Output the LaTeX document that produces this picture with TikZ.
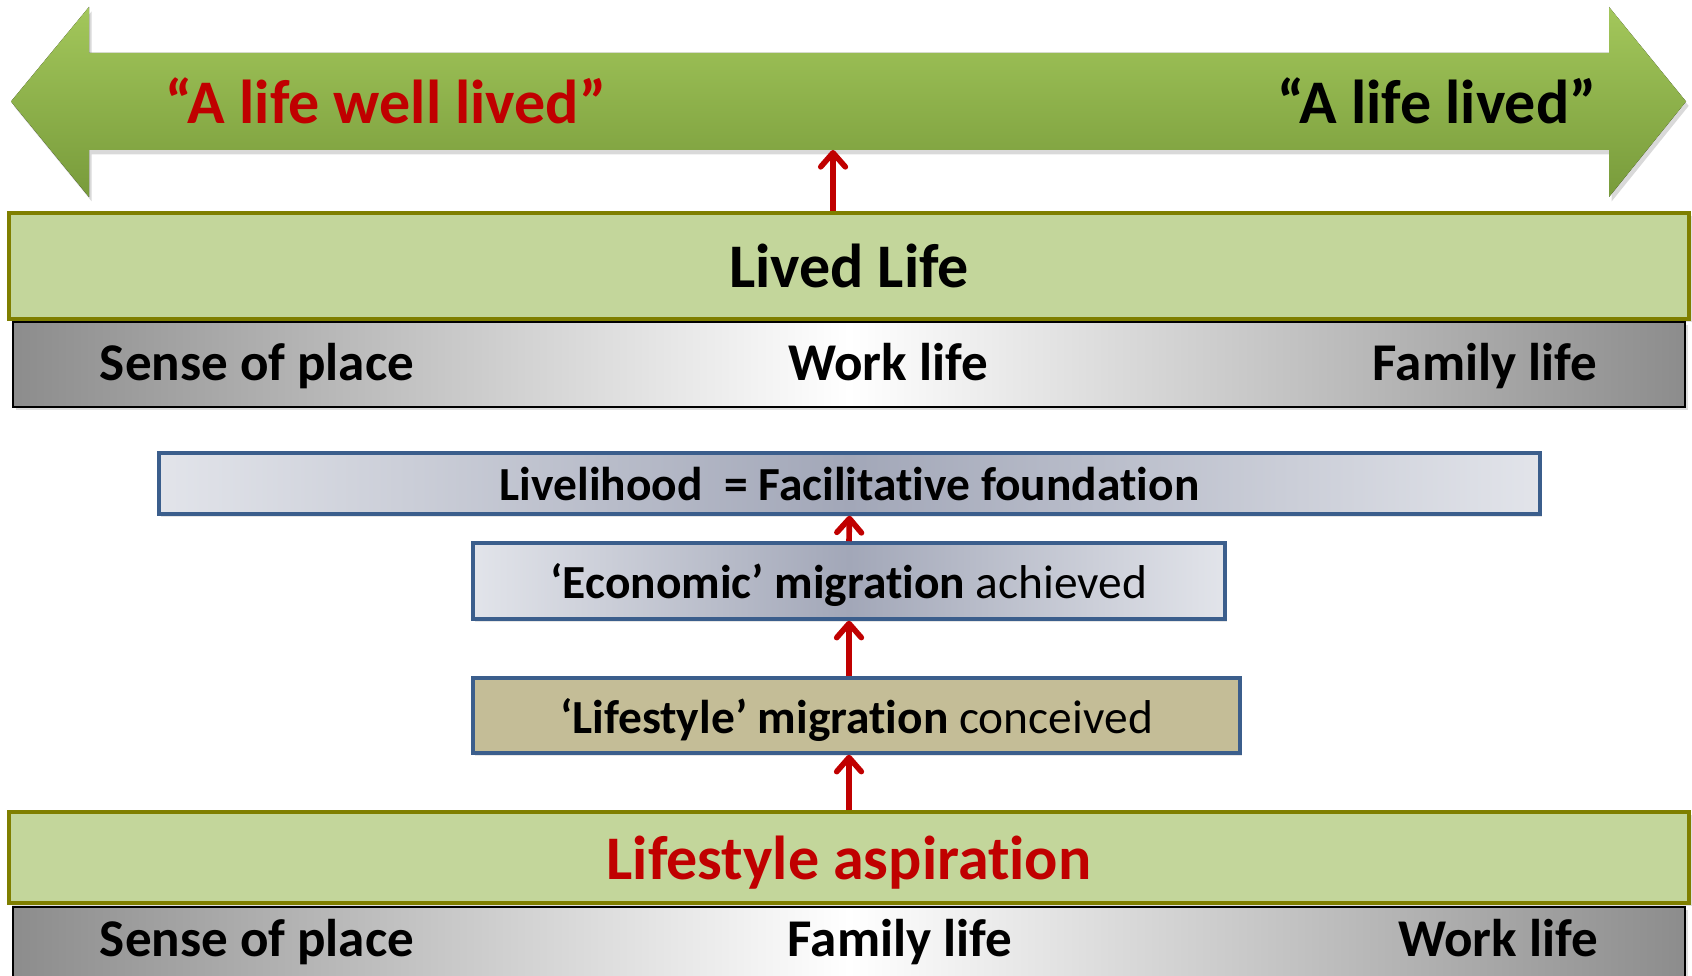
\documentclass[tikz,border=0pt]{standalone}
\usepackage{fontspec}
\setmainfont{Carlito}[Ligatures=NoCommon]
\usetikzlibrary{arrows.meta}
\usetikzlibrary{shadows}
\usepackage{xcolor}
\definecolor{lifered}{HTML}{C00000}
\definecolor{arrowtop}{HTML}{A3C75B}
\definecolor{arrowbot}{HTML}{789B3B}
\definecolor{olivefill}{HTML}{C3D69B}
\definecolor{oliveline}{HTML}{7F7F00}
\definecolor{blueline}{HTML}{3B5E8C}
\definecolor{steeledge}{HTML}{E2E4EA}
\definecolor{steelmid}{HTML}{A2A7B8}
\definecolor{tanfill}{HTML}{C4BD97}

\begin{document}
\begin{tikzpicture}[
    greenbar/.style = {draw=oliveline, line width=2.4pt, fill=olivefill,
                minimum width=33.6cm, minimum height=#1, inner sep=0pt, text depth=0pt,
                drop shadow={opacity=0.25, shadow xshift=1.5pt, shadow yshift=-1.5pt}},
    greybar/.style = {draw=black, line width=1.2pt, left color=black!45,
                right color=black!45, middle color=white,
                minimum width=33.44cm, minimum height=#1, inner sep=0pt,
                drop shadow={opacity=0.25, shadow xshift=1.5pt, shadow yshift=-1.5pt}},
    box/.style = {draw=blueline, line width=2pt, minimum width=#1,
                inner sep=0pt, text depth=0pt,
                drop shadow={opacity=0.2, shadow xshift=1pt, shadow yshift=-1.5pt}},
    steel/.style = {left color=steeledge, right color=steeledge, middle color=steelmid},
    redarrow/.style = {draw=lifered, line width=3.2pt,
                -{Straight Barb[length=8pt,width=14pt,round]}},
    big/.style = {font=\fontsize{35.3}{42}\selectfont\bfseries},
    mid/.style = {font=\fontsize{30.2}{36}\selectfont\bfseries, anchor=base},
    small/.style = {font=\fontsize{27}{32}\selectfont}
                    ]
        \path[use as bounding box] (0,0) rectangle (33.84,19.52);
        \clip (0,0) rectangle (33.84,19.52);
        % the double arrow on top
        \def\hx{1.78}
        \def\hX{32.18}
        \fill[top color=arrowtop, bottom color=arrowbot,
              drop shadow={opacity=0.3, shadow xshift=1.5pt, shadow yshift=-2.5pt}]
            (0.22,17.49) -- (\hx,19.38) -- (\hx,18.46) -- (\hX,18.46) -- (\hX,19.38)
            -- (33.72,17.49) -- (\hX,15.58) -- (\hX,16.52) -- (\hx,16.52)
            -- (\hx,15.58) -- cycle;
        \coordinate (shaft) at (16.66,16.52);
        \node[big, text=lifered] (welllived) at (7.72,17.50) {“A life well lived”};
        \node[big] (lived) at (28.74,17.50) {“A life lived”};
        \node[greenbar=2.12cm, big] (livedlife) at (16.98,14.20) {Lived Life};
        \node[greybar=1.70cm] (topbar) at (16.98,12.23) {};
        \foreach \x/\t [count=\i] in {5.14/Sense of place, 17.76/Work life, 29.70/Family life}
            \node[mid] (top\i) at (\x,11.90) {\t};
        \node[box=27.62cm, steel, minimum height=1.22cm,
              font=\fontsize{27}{32}\selectfont\bfseries]
            (livelihood) at (16.99,9.85) {Livelihood~~= Facilitative foundation};
        \node[box=15.04cm, steel, minimum height=1.52cm, small]
            (economic) at (16.98,7.90) {\textbf{‘Economic’ migration} achieved};
        \node[box=15.34cm, fill=tanfill, minimum height=1.50cm, small]
            (lifestyle) at (17.13,5.21) {\textbf{‘Lifestyle’ migration} conceived};
        \node[greenbar=1.82cm, big, text=lifered] (aspiration) at (16.98,2.37) {Lifestyle aspiration};
        \node[greybar=1.60cm] (bottombar) at (16.98,0.58) {};
        \foreach \x/\t [count=\i] in {5.14/Sense of place, 18.00/Family life, 29.96/Work life}
            \node[mid] (bottom\i) at (\x,0.38) {\t};
        \draw[redarrow] (livedlife.north -| shaft) -- (shaft);
        \draw[redarrow] (economic.north) -- (livelihood.south);
        \draw[redarrow] (lifestyle.north -| economic.north) -- (economic.south);
        \draw[redarrow] (aspiration.north) -- (lifestyle.south -| aspiration.north);
    \end{tikzpicture}
\end{document}
